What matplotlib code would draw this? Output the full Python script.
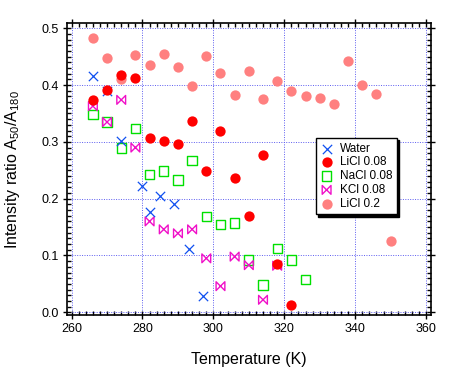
import matplotlib
matplotlib.use('Agg')
import matplotlib.pyplot as plt
from matplotlib.path import Path
from matplotlib.ticker import MultipleLocator
import numpy as np

plt.rcParams['font.family'] = ['Liberation Sans', 'DejaVu Sans']
plt.rcParams['mathtext.fontset'] = 'custom'
plt.rcParams['mathtext.rm'] = 'Liberation Sans'
plt.rcParams['mathtext.it'] = 'Liberation Sans:italic'

# Water
water_t = [266, 270, 274, 280, 282, 285, 289, 293, 297]
water_r = [0.416, 0.389, 0.301, 0.223, 0.176, 0.205, 0.191, 0.111, 0.029]

# LiCl 0.08
licl08_t = [266, 270, 274, 278, 282, 286, 290, 294, 298, 302, 306, 310, 314, 318, 322]
licl08_r = [0.374, 0.392, 0.417, 0.413, 0.307, 0.302, 0.296, 0.337, 0.249, 0.320,
            0.236, 0.169, 0.277, 0.085, 0.013]

# NaCl 0.08
nacl_t = [266, 270, 274, 278, 282, 286, 290, 294, 298, 302, 306, 310, 314, 318, 322, 326]
nacl_r = [0.348, 0.335, 0.289, 0.324, 0.242, 0.249, 0.233, 0.267, 0.169, 0.155,
          0.157, 0.092, 0.048, 0.112, 0.092, 0.058]

# KCl 0.08
kcl_t = [266, 270, 274, 278, 282, 286, 290, 294, 298, 302, 306, 310, 314, 318]
kcl_r = [0.363, 0.335, 0.374, 0.290, 0.160, 0.146, 0.139, 0.146, 0.095, 0.046,
         0.098, 0.083, 0.022, 0.082]

# LiCl 0.2
licl2_t = [266, 270, 274, 278, 282, 286, 290, 294, 298, 302, 306, 310, 314, 318,
           322, 326, 330, 334, 338, 342, 346, 350]
licl2_r = [0.483, 0.448, 0.410, 0.453, 0.436, 0.455, 0.432, 0.398, 0.452, 0.422,
           0.383, 0.424, 0.376, 0.408, 0.389, 0.380, 0.377, 0.367, 0.443, 0.401,
           0.385, 0.125]

# bowtie marker
bowtie = Path([(-1, 1), (1, -1), (1, 1), (-1, -1), (-1, 1)],
              [Path.MOVETO, Path.LINETO, Path.LINETO, Path.LINETO, Path.CLOSEPOLY])

fig = plt.figure(figsize=(4.54, 3.69), dpi=100)
ax = fig.add_axes([67 / 454, 1 - 315 / 369, 364 / 454, 291.7 / 369])

ax.set_xlim(258.7, 361.4)
ax.set_ylim(-0.0048, 0.5088)

ax.grid(True, which='major', color='#5c5cf0', linestyle=(0, (1, 1.5)), linewidth=0.7)
ax.set_axisbelow(True)

ax.scatter(licl2_t, licl2_r, s=55, marker='o', color='#ff8080', linewidths=0,
           label='LiCl 0.2', zorder=3)
ax.scatter(nacl_t, nacl_r, s=45, marker='s', facecolors='none', edgecolors='#00e000',
           linewidths=1.0, label='NaCl 0.08', zorder=4)
ax.scatter(kcl_t, kcl_r, s=40, marker=bowtie, facecolors='none', edgecolors='#f010c8',
           linewidths=1.0, label='KCl 0.08', zorder=5)
ax.scatter(water_t, water_r, s=45, marker='x', color='#1050f0', linewidths=0.9,
           label='Water', zorder=6)
ax.scatter(licl08_t, licl08_r, s=55, marker='o', color='#ff0000', linewidths=0,
           label='LiCl 0.08', zorder=7)

ax.xaxis.set_major_locator(MultipleLocator(20))
ax.xaxis.set_minor_locator(MultipleLocator(2))
ax.yaxis.set_major_locator(MultipleLocator(0.1))
ax.yaxis.set_minor_locator(MultipleLocator(0.01))
ax.yaxis.set_major_formatter(matplotlib.ticker.FormatStrFormatter('%.1f'))
ax.tick_params(which='major', direction='inout', length=6, width=1,
               top=True, right=True, labelsize=9, pad=3)
ax.tick_params(which='minor', direction='in', length=3, width=1, top=True, right=True)
for sp in ax.spines.values():
    sp.set_linewidth(1.2)

ax.set_xlabel('Temperature (K)', fontsize=11.5, labelpad=12)
ax.set_ylabel(r'Intensity ratio A$_{\mathrm{50}}$/A$_{\mathrm{180}}$', fontsize=11.5, labelpad=14)

handles, labels = ax.get_legend_handles_labels()
order = [3, 4, 1, 2, 0]
leg = ax.legend([handles[i] for i in order], [labels[i] for i in order],
                loc='upper left', bbox_to_anchor=(0.684, 0.607), borderaxespad=0,
                fontsize=8.5, frameon=True, fancybox=False, edgecolor='black',
                framealpha=1, shadow={'color': 'black', 'alpha': 1, 'ox': 1.5, 'oy': -1.5},
                handlelength=1.0, handletextpad=0.6, labelspacing=0.15,
                borderpad=0.4, scatterpoints=1)
leg.get_frame().set_linewidth(1.0)

fig.savefig('out.png', dpi=100)
